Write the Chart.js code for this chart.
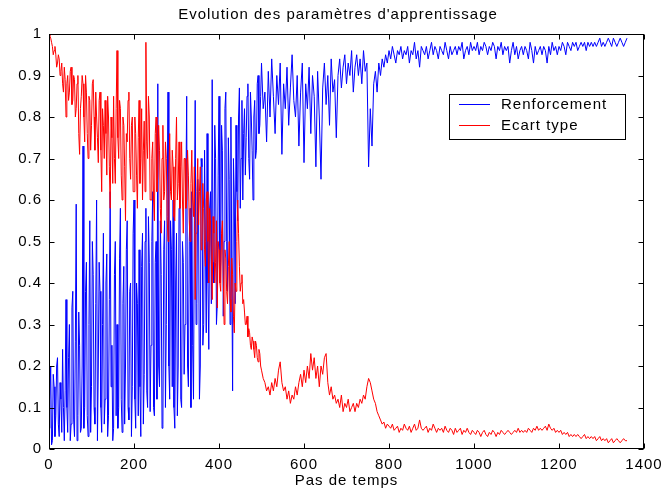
<!DOCTYPE html>
<html>
<head>
<meta charset="utf-8">
<script src="https://cdn.jsdelivr.net/npm/chart.js@4.4.1/dist/chart.umd.min.js"></script>
<style>
  html, body { margin: 0; padding: 0; background: #fff; }
  canvas { display: block; }
</style>
</head>
<body>
<canvas id="chart" width="661" height="492"></canvas>
<script>
/* global Chart */

// readings: every 2 steps up to 498, then every 4 steps from 500
const EARLY_GAP = 2;
const LATE_START = 500;
const LATE_GAP = 4;

const TITLE = "Evolution des paramètres d'apprentissage";
const X_TITLE = 'Pas de temps';

const xTickValues = [0, 200, 400, 600, 800, 1000, 1200, 1400];
const yTickValues = [0, 0.1, 0.2, 0.3, 0.4, 0.5, 0.6, 0.7, 0.8, 0.9, 1];

const renforcementEarly = [
  0.05, 0.12, 0.2, 0.01, 0.02, 0.18, 0.15, 0.03, 0.08, 0.2, 0.22, 0.06, 0.03, 0.16, 0.12, 0.04, 0.24, 0.1, 0.02, 0.14,
  0.36, 0.1, 0.04, 0.22, 0.3, 0.02, 0.06, 0.34, 0.38, 0.07, 0.03, 0.26, 0.59, 0.02, 0.08, 0.33, 0.25, 0.04, 0.05, 0.2,
  0.73, 0.05, 0.1, 0.38, 0.45, 0.08, 0.03, 0.3, 0.55, 0.04, 0.15, 0.5, 0.42, 0.1, 0.06, 0.35, 0.6, 0.02, 0.2, 0.45,
  0.38, 0.1, 0.04, 0.3, 0.52, 0.06, 0.12, 0.4, 0.47, 0.03, 0.08, 0.36, 0.62, 0.15, 0.25, 0.02, 0.05, 0.42, 0.5, 0.08,
  0.3, 0.05, 0.1, 0.46, 0.58, 0.12, 0.04, 0.35, 0.44, 0.06, 0.2, 0.48, 0.55, 0.1, 0.07, 0.38, 0.4, 0.03, 0.15, 0.52,
  0.6, 0.12, 0.05, 0.4, 0.35, 0.08, 0.48, 0.15, 0.03, 0.44, 0.52, 0.06, 0.18, 0.5, 0.58, 0.14, 0.1, 0.56, 0.45, 0.09,
  0.25, 0.5, 0.62, 0.1, 0.08, 0.45, 0.5, 0.12, 0.88, 0.2, 0.15, 0.55, 0.42, 0.05, 0.06, 0.48, 0.55, 0.1, 0.3, 0.6,
  0.86, 0.2, 0.12, 0.55, 0.48, 0.15, 0.6, 0.1, 0.05, 0.4, 0.52, 0.08, 0.2, 0.58, 0.65, 0.12, 0.1, 0.5, 0.45, 0.18,
  0.3, 0.6, 0.85, 0.2, 0.15, 0.5, 0.58, 0.1, 0.62, 0.25, 0.12, 0.55, 0.84, 0.3, 0.35, 0.65, 0.55, 0.12, 0.2, 0.7,
  0.68, 0.25, 0.3, 0.72, 0.5, 0.28, 0.76, 0.4, 0.24, 0.58, 0.62, 0.35, 0.89, 0.45, 0.4, 0.78, 0.7, 0.3, 0.35, 0.66,
  0.85, 0.4, 0.45, 0.78, 0.72, 0.32, 0.5, 0.82, 0.86, 0.5, 0.38, 0.75, 0.65, 0.3, 0.8, 0.45, 0.14, 0.7, 0.6, 0.35,
  0.78, 0.62, 0.55, 0.8, 0.87, 0.58, 0.7, 0.84, 0.6, 0.76, 0.82, 0.66, 0.75, 0.85, 0.88, 0.7, 0.65, 0.86, 0.8, 0.72,
  0.6, 0.8, 0.84, 0.7, 0.72, 0.88, 0.9, 0.76, 0.78, 0.85
];

const renforcementLate = [
  0.93, 0.82, 0.86, 0.74, 0.91,
  0.8, 0.94, 0.85, 0.76, 0.9, 0.83, 0.93, 0.71, 0.88, 0.82,
  0.92, 0.78, 0.87, 0.95, 0.84, 0.8, 0.9, 0.73, 0.86, 0.93,
  0.69, 0.88, 0.82, 0.92, 0.76, 0.9, 0.85, 0.68, 0.91, 0.8,
  0.65, 0.87, 0.93, 0.83, 0.9, 0.78, 0.94, 0.86, 0.89, 0.75,
  0.9, 0.94, 0.87, 0.92, 0.95, 0.88, 0.93, 0.9, 0.96, 0.86,
  0.92, 0.95, 0.9, 0.94, 0.88, 0.96, 0.91, 0.93, 0.68, 0.82,
  0.73, 0.88, 0.91, 0.86, 0.93, 0.9, 0.94, 0.92, 0.95, 0.93,
  0.96, 0.94, 0.97, 0.95, 0.93, 0.96, 0.95, 0.97, 0.94, 0.96,
  0.95, 0.97, 0.93, 0.96, 0.95, 0.98, 0.94, 0.96, 0.92, 0.97,
  0.96, 0.95, 0.97, 0.94, 0.96, 0.98, 0.95, 0.97, 0.96, 0.94,
  0.97, 0.96, 0.95, 0.98, 0.96, 0.94, 0.97, 0.95, 0.96, 0.97,
  0.95, 0.97, 0.96, 0.98, 0.94, 0.96, 0.97, 0.95, 0.98, 0.96,
  0.97, 0.96, 0.98, 0.95, 0.97, 0.96, 0.98, 0.97, 0.95, 0.97,
  0.96, 0.98, 0.97, 0.94, 0.97, 0.96, 0.98, 0.95, 0.97, 0.96,
  0.97, 0.93, 0.96, 0.98, 0.95, 0.97, 0.94, 0.96, 0.97, 0.95,
  0.97, 0.96, 0.94, 0.98, 0.96, 0.93, 0.97, 0.95, 0.96, 0.97,
  0.95, 0.97, 0.96, 0.93, 0.97, 0.95, 0.98, 0.96, 0.97, 0.95,
  0.97, 0.96, 0.98, 0.97, 0.95, 0.98, 0.97, 0.96, 0.98, 0.97,
  0.98, 0.96, 0.97, 0.98, 0.97, 0.98, 0.96, 0.98, 0.97, 0.98,
  0.97, 0.98, 0.97, 0.98, 0.99, 0.97, 0.98, 0.97, 0.98, 0.99,
  0.98, 0.97, 0.99, 0.98, 0.97, 0.98, 0.99, 0.98, 0.97, 0.98,
  0.99
];

const ecartTypeEarly = [
  1.0, 0.995, 0.99, 0.98, 0.97, 0.95, 0.96, 0.97, 0.95, 0.92, 0.93, 0.95, 0.94, 0.9, 0.91, 0.93, 0.88, 0.86, 0.92, 0.89,
  0.8, 0.88, 0.9, 0.84, 0.86, 0.91, 0.92, 0.83, 0.84, 0.9, 0.89, 0.8, 0.82, 0.88, 0.9, 0.76, 0.71, 0.82, 0.85, 0.9,
  0.88, 0.8, 0.74, 0.9, 0.86, 0.76, 0.7, 0.85, 0.84, 0.72, 0.78, 0.88, 0.89, 0.8, 0.72, 0.86, 0.8, 0.75, 0.69, 0.84,
  0.86, 0.72, 0.62, 0.82, 0.78, 0.7, 0.84, 0.76, 0.66, 0.85, 0.8, 0.68, 0.58, 0.8, 0.75, 0.64, 0.85, 0.7, 0.64, 0.82,
  0.96, 0.75, 0.7, 0.84, 0.82, 0.66, 0.6, 0.8, 0.78, 0.68, 0.55, 0.76, 0.74, 0.84, 0.86, 0.7, 0.65, 0.78, 0.8, 0.62,
  0.62, 0.8, 0.76, 0.66, 0.58, 0.75, 0.84, 0.64, 0.7, 0.82, 0.6, 0.72, 0.79, 0.62, 0.98, 0.74, 0.7, 0.85, 0.8, 0.6,
  0.6, 0.7, 0.74, 0.6, 0.55, 0.76, 0.8, 0.62, 0.66, 0.78, 0.72, 0.58, 0.52, 0.7, 0.78, 0.6, 0.62, 0.74, 0.7, 0.56,
  0.5, 0.66, 0.76, 0.62, 0.6, 0.72, 0.68, 0.56, 0.55, 0.7, 0.8, 0.6, 0.64, 0.74, 0.58, 0.68, 0.74, 0.6, 0.52, 0.7,
  0.7, 0.58, 0.6, 0.72, 0.66, 0.55, 0.5, 0.64, 0.72, 0.6, 0.56, 0.68, 0.36, 0.52, 0.62, 0.7, 0.54, 0.62, 0.68, 0.48,
  0.5, 0.64, 0.58, 0.48, 0.44, 0.6, 0.62, 0.5, 0.4, 0.58, 0.55, 0.46, 0.36, 0.56, 0.52, 0.4, 0.45, 0.55, 0.34, 0.5,
  0.48, 0.4, 0.38, 0.52, 0.55, 0.42, 0.3, 0.48, 0.46, 0.38, 0.35, 0.44, 0.5, 0.36, 0.33, 0.46, 0.42, 0.32, 0.28, 0.4,
  0.38, 0.5, 0.6, 0.52, 0.44, 0.38, 0.4, 0.42, 0.35, 0.36, 0.33, 0.3, 0.3, 0.32, 0.27, 0.29, 0.28, 0.25, 0.24, 0.27,
  0.26, 0.24, 0.22, 0.26, 0.25, 0.22, 0.21, 0.24, 0.23, 0.2
];

const ecartTypeLate = [
  0.19, 0.17, 0.16, 0.14, 0.15,
  0.13, 0.16, 0.14, 0.17, 0.15, 0.19, 0.21, 0.16, 0.14, 0.15,
  0.12, 0.14, 0.11, 0.13, 0.12, 0.15, 0.13, 0.16, 0.18, 0.15,
  0.19, 0.16, 0.2, 0.17, 0.23, 0.19, 0.22, 0.17, 0.2, 0.15,
  0.2, 0.18, 0.22, 0.23, 0.16, 0.13, 0.15, 0.12, 0.13, 0.11,
  0.12, 0.1, 0.13, 0.09, 0.11, 0.1, 0.12, 0.09, 0.1, 0.11,
  0.09, 0.11, 0.1, 0.12, 0.11, 0.13, 0.12, 0.15, 0.17, 0.16,
  0.14, 0.12, 0.11, 0.09, 0.08, 0.07, 0.06, 0.065, 0.05, 0.06,
  0.055, 0.05, 0.06, 0.045, 0.05, 0.055, 0.04, 0.05, 0.045, 0.06,
  0.05, 0.045, 0.055, 0.04, 0.05, 0.06, 0.045, 0.05, 0.07, 0.05,
  0.045, 0.05, 0.055, 0.04, 0.05, 0.045, 0.06, 0.05, 0.04, 0.05,
  0.045, 0.05, 0.04, 0.055, 0.045, 0.04, 0.05, 0.045, 0.035, 0.05,
  0.04, 0.045, 0.05, 0.035, 0.045, 0.04, 0.05, 0.04, 0.035, 0.045,
  0.04, 0.035, 0.045, 0.04, 0.03, 0.04, 0.045, 0.035, 0.03, 0.04,
  0.035, 0.045, 0.04, 0.03, 0.04, 0.035, 0.045, 0.04, 0.035, 0.04,
  0.045, 0.04, 0.035, 0.04, 0.045, 0.04, 0.05, 0.04, 0.045, 0.04,
  0.045, 0.04, 0.05, 0.045, 0.04, 0.05, 0.045, 0.055, 0.045, 0.05,
  0.045, 0.05, 0.055, 0.045, 0.06, 0.05, 0.045, 0.05, 0.04, 0.045,
  0.04, 0.045, 0.035, 0.04, 0.035, 0.04, 0.03, 0.035, 0.03, 0.035,
  0.03, 0.035, 0.03, 0.025, 0.03, 0.035, 0.025, 0.03, 0.025, 0.03,
  0.025, 0.03, 0.02, 0.025, 0.03, 0.02, 0.025, 0.02, 0.025, 0.015,
  0.02, 0.025, 0.015, 0.02, 0.025, 0.02, 0.015, 0.02, 0.025, 0.02,
  0.02
];

const FONT = { family: '"Liberation Sans", Arial, sans-serif', size: 15 };
const CSS_FONT = `${FONT.size}px ${FONT.family}`;

function toPoints(early, late) {
  return early.map((v, i) => ({ x: i * EARLY_GAP, y: v }))
    .concat(late.map((v, i) => ({ x: LATE_START + i * LATE_GAP, y: v })));
}

// ── Plugins ────────────────────────────────────────────────────────────────

// MATLAB-like text is a bit spread out
const spacing = {
  id: 'spacing',
  beforeLayout(chart) { chart.ctx.letterSpacing = '1px'; },
  beforeDraw(chart)   { chart.ctx.letterSpacing = '1px'; },
};

// white background, box around the axes, inward ticks on all four sides
const frame = {
  id: 'frame',
  beforeDraw(chart) {
    const { ctx, width, height } = chart;
    ctx.save();
    ctx.fillStyle = '#fff';
    ctx.fillRect(0, 0, width, height);
    ctx.restore();
  },
  afterDatasetsDraw(chart) {
    const { ctx, chartArea: a, scales: { x, y } } = chart;
    const L = Math.round(a.left) + 0.5, R = Math.round(a.right) - 0.5;
    const T = Math.round(a.top) + 0.5,  B = Math.round(a.bottom) - 0.5;
    const len = 5;
    ctx.save();
    ctx.strokeStyle = '#000';
    ctx.lineWidth = 1;
    ctx.strokeRect(L, T, R - L, B - T);
    ctx.beginPath();
    xTickValues.forEach(v => {
      const px = Math.round(x.getPixelForValue(v)) + 0.5;
      ctx.moveTo(px, B); ctx.lineTo(px, B - len);
      ctx.moveTo(px, T); ctx.lineTo(px, T + len);
    });
    yTickValues.forEach(v => {
      const py = Math.round(y.getPixelForValue(v)) + 0.5;
      ctx.moveTo(L, py); ctx.lineTo(L + len, py);
      ctx.moveTo(R, py); ctx.lineTo(R - len, py);
    });
    ctx.stroke();
    ctx.restore();
  },
};

// title sits a little left of the axes centre in the original
const plotTitle = {
  id: 'plotTitle',
  afterDraw(chart) {
    const { ctx } = chart;
    ctx.save();
    ctx.letterSpacing = '1px';
    ctx.font = CSS_FONT;
    ctx.fillStyle = '#000';
    ctx.textAlign = 'center';
    ctx.textBaseline = 'middle';
    ctx.fillText(TITLE, 338, 15);
    ctx.restore();
  },
};

// legend box inside the axes, upper right
const boxLegend = {
  id: 'boxLegend',
  afterDraw(chart) {
    const { ctx } = chart;
    const bx = 449.5, by = 94.5, bw = 176, bh = 45;
    ctx.save();
    ctx.letterSpacing = '1px';
    ctx.fillStyle = '#fff';
    ctx.fillRect(bx, by, bw, bh);
    ctx.strokeStyle = '#000';
    ctx.lineWidth = 1;
    ctx.strokeRect(bx, by, bw, bh);
    ctx.font = CSS_FONT;
    ctx.textBaseline = 'middle';
    ctx.fillStyle = '#000';
    chart.data.datasets.forEach((ds, i) => {
      const ly = 104.5 + i * 21;
      ctx.strokeStyle = ds.borderColor;
      ctx.beginPath();
      ctx.moveTo(459, ly); ctx.lineTo(490, ly);
      ctx.stroke();
      ctx.fillText(ds.label, 501, ly);
    });
    ctx.restore();
  },
};

// ── Chart ──────────────────────────────────────────────────────────────────

new Chart(document.getElementById('chart'), {
  type: 'line',
  data: {
    datasets: [
      {
        label: 'Renforcement', data: toPoints(renforcementEarly, renforcementLate),
        borderColor: '#0000ff', borderWidth: 1, order: 1,
      },
      {
        label: 'Ecart type', data: toPoints(ecartTypeEarly, ecartTypeLate),
        borderColor: '#ff0000', borderWidth: 1, order: 0,
      },
    ],
  },
  options: {
    responsive: false,
    animation: false,
    events: [],
    layout: { padding: { left: 0, right: 17, top: 34, bottom: 0 } },
    elements: { point: { radius: 0 }, line: { tension: 0 } },
    plugins: {
      legend: { display: false },
      tooltip: { enabled: false },
      title: { display: false },
    },
    scales: {
      x: {
        type: 'linear', min: 0, max: 1400,
        afterBuildTicks: (s) => { s.ticks = xTickValues.map(v => ({ value: v })); },
        afterFit: (s) => { s.height = 43; s.paddingLeft = 0; s.paddingRight = 0; },
        grid: { display: true, drawOnChartArea: false, drawTicks: false, color: 'transparent' },
        border: { display: false },
        ticks: { color: '#000', font: FONT, padding: 7, maxRotation: 0, callback: (v) => String(v) },
        title: { display: true, text: X_TITLE, color: '#000', font: FONT, padding: { top: 0, bottom: 2 } },
      },
      y: {
        type: 'linear', min: 0, max: 1,
        afterBuildTicks: (s) => { s.ticks = yTickValues.map(v => ({ value: v })); },
        afterFit: (s) => { s.width = 49; s.paddingTop = 0; s.paddingBottom = 0; },
        grid: { display: true, drawOnChartArea: false, drawTicks: false, color: 'transparent' },
        border: { display: false },
        ticks: {
          color: '#000', font: FONT, padding: 7,
          callback: (v) => (v === 0 || v === 1 ? String(v) : v.toFixed(1)),
        },
      },
    },
  },
  plugins: [spacing, frame, plotTitle, boxLegend],
});
</script>
</body>
</html>
